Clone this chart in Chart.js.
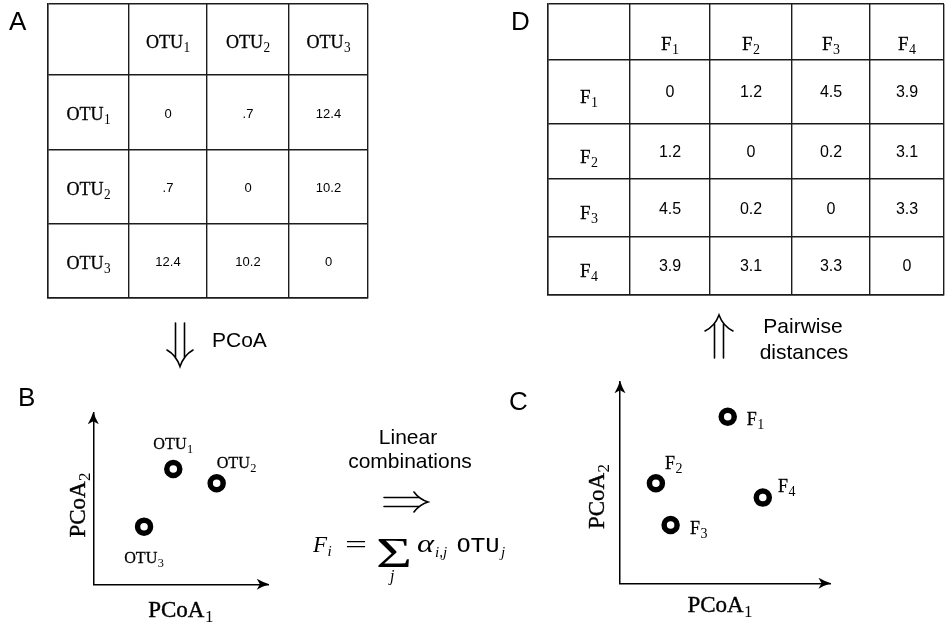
<!DOCTYPE html>
<html>
<head>
<meta charset="utf-8">
<script src="https://cdn.jsdelivr.net/npm/chart.js@4.4.0/dist/chart.umd.min.js"></script>
<style>
  html, body { margin: 0; padding: 0; background: #fff; }
  #stage { position: relative; width: 945px; height: 623px; overflow: hidden; background: #fff; }
  #stage canvas { position: absolute; left: 0; top: 0; }
  #ann { position: absolute; left: 0; top: 0; }
</style>
</head>
<body>
<div id="stage">
  <canvas id="tabA" width="945" height="623"></canvas>
  <canvas id="tabD" width="945" height="623"></canvas>
  <canvas id="pcoaB" width="945" height="623"></canvas>
  <canvas id="pcoaC" width="945" height="623"></canvas>
  <svg id="ann" width="945" height="623" xmlns="http://www.w3.org/2000/svg">
    <g font-family="'Liberation Sans', Arial, Helvetica, sans-serif" fill="#000">
      <text x="9" y="30" font-size="26">A</text>
      <text x="511" y="30" font-size="26">D</text>
      <text x="18" y="406" font-size="26">B</text>
      <text x="509" y="410" font-size="26">C</text>
      <text x="212" y="347" font-size="21">PCoA</text>
      <text x="803" y="333" font-size="21" text-anchor="middle">Pairwise</text>
      <text x="804" y="359" font-size="21" text-anchor="middle">distances</text>
      <text x="408" y="444" font-size="21" text-anchor="middle">Linear</text>
      <text x="410" y="468" font-size="21" text-anchor="middle">combinations</text>
    </g>
    <g stroke="#000" stroke-width="1.6" fill="none" stroke-linecap="round">
      <path d="M175.5 323 V357 M184.5 323 V357"/>
      <path d="M167 350 Q176 355 180 366.5 Q184 355 193 350"/>
      <path d="M714.5 358 V324 M723.5 358 V324"/>
      <path d="M705 331 Q715 326 719 315 Q723 326 733 331"/>
      <path d="M384 497.5 H419 M384 506.5 H419"/>
      <path d="M414 492 Q419 499 428 502 Q419 505 414 512"/>
    </g>
    <g fill="#000">
      <text x="313" y="552" font-family="'Liberation Serif', 'DejaVu Serif', serif" font-style="italic" font-size="23">F</text>
      <text x="327.5" y="556" font-family="'Liberation Serif', 'DejaVu Serif', serif" font-style="italic" font-size="15">i</text>
      <text x="345" y="553" font-family="'Liberation Serif', 'DejaVu Serif', serif" font-size="26" textLength="22" lengthAdjust="spacingAndGlyphs">=</text>
      <text x="376" y="566.5" font-family="'Liberation Serif', 'DejaVu Serif', serif" font-size="43" textLength="36" lengthAdjust="spacingAndGlyphs">Σ</text>
      <text x="390" y="581" font-family="'Liberation Serif', 'DejaVu Serif', serif" font-style="italic" font-size="16">j</text>
      <text x="417" y="552" font-family="'Liberation Serif', 'DejaVu Serif', serif" font-style="italic" font-size="25" textLength="17" lengthAdjust="spacingAndGlyphs">α</text>
      <text x="435" y="557" font-family="'Liberation Serif', 'DejaVu Serif', serif" font-style="italic" font-size="15">i,j</text>
      <text x="456.5" y="552" font-family="'DejaVu Sans Mono', 'Liberation Mono', monospace" font-size="19" textLength="43" lengthAdjust="spacingAndGlyphs">OTU</text>
      <text x="501" y="557" font-family="'Liberation Serif', 'DejaVu Serif', serif" font-style="italic" font-size="15">j</text>
    </g>
  </svg>
</div>
<script>
// ---------------- DATA ----------------
const otuLabels = ['OTU_1', 'OTU_2', 'OTU_3'];
const otuDistances = [
  [0, 0.7, 12.4],
  [0.7, 0, 10.2],
  [12.4, 10.2, 0]
];
const featureLabels = ['F_1', 'F_2', 'F_3', 'F_4'];
const featureDistances = [
  [0, 1.2, 4.5, 3.9],
  [1.2, 0, 0.2, 3.1],
  [4.5, 0.2, 0, 3.3],
  [3.9, 3.1, 3.3, 0]
];
const otuPCoA1 = [4.57, 7.05, 2.90];
const otuPCoA2 = [6.72, 5.89, 3.36];
const featurePCoA1 = [5.13, 1.71, 2.41, 6.80];
const featurePCoA2 = [8.26, 4.96, 2.89, 4.25];
const axisTitles = ['PCoA_1', 'PCoA_2'];

// ---------------- LAYOUT / STYLE ----------------
const W = 945, H = 623;
const TT = '"Liberation Serif", serif';
const SERIF = '"Liberation Serif", serif';
const SANS = '"Liberation Sans", Arial, Helvetica, sans-serif';
const LINE = '#1c1c1c';

const tableStyleA = {
  left: 48, top: 4, colW: [81, 78, 82, 79], rowH: [71, 75, 74, 74],
  head: { mainFont: '19px ' + TT, subFont: '14px ' + SERIF, subDy: 4, subGap: 0.5, sx: 0.95, stroke: 0.3 },
  colDy: 8, rowDy: 7.5, numFont: '13px ' + SANS, numDy: 1.5,
  fmt: v => v === 0 ? '0' : String(v).replace(/^0\./, '.')
};
const tableStyleD = {
  left: 548, top: 4, colW: [82, 80, 82, 78, 74], rowH: [55.5, 64, 55.5, 57.7, 57.6],
  head: { mainFont: '19px ' + TT, subFont: '14px ' + SERIF, subDy: 4, subGap: 0.5, sx: 1, stroke: 0.3 },
  colDy: 18, rowDy: 11.5, numFont: '16px ' + SANS, numDy: 1.5,
  fmt: v => v === 0 ? '0' : v.toFixed(1)
};
const scatterStyleB = {
  area: { left: 93.3, top: 412.7, right: 268.3, bottom: 584.3 },
  labelFont: { mainFont: '17px ' + TT, subFont: '13px ' + SERIF, subDy: 4, subGap: 0.5, sx: 0.95, stroke: 0.3 },
  titleFont: { mainFont: '23px ' + TT, subFont: '17px ' + SERIF, subDy: 5, subGap: 0.5, sx: 1, stroke: 0.4 },
  labelOffsets: [
    { dx: 0, dy: -20, align: 'center' },
    { dx: 0, dy: -15, align: 'left' },
    { dx: 0, dy: 36, align: 'center' }
  ],
  xTitleDx: 0, xTitleDy: 32.5, yTitleDx: 8.5, yTitleDy: 6.5
};
const scatterStyleC = {
  area: { left: 620, top: 381.7, right: 830, bottom: 583.3 },
  labelFont: { mainFont: '18px ' + TT, subFont: '14px ' + SERIF, subDy: 4, subGap: 0.5, sx: 1, stroke: 0.3 },
  titleFont: { mainFont: '23px ' + TT, subFont: '17px ' + SERIF, subDy: 5, subGap: 0.5, sx: 1, stroke: 0.4 },
  labelOffsets: [
    { dx: 19, dy: 8.3, align: 'left' },
    { dx: 9, dy: -14.3, align: 'left' },
    { dx: 19.3, dy: 9, align: 'left' },
    { dx: 15.3, dy: -6, align: 'left' }
  ],
  xTitleDx: -5, xTitleDy: 28.5, yTitleDx: 16, yTitleDy: 14
};

// ---------------- HELPERS ----------------
function cumsum(a) { const r = [0]; a.forEach(v => r.push(r[r.length - 1] + v)); return r; }

function drawSub(ctx, label, x, y, st, align) {
  const parts = label.split('_');
  const main = parts[0], sub = parts[1];
  const sx = st.sx || 1;
  ctx.font = st.mainFont;
  const wm = ctx.measureText(main).width;
  let ws = 0;
  if (sub) { ctx.font = st.subFont; ws = ctx.measureText(sub).width + st.subGap; }
  const total = (wm + ws) * sx;
  const x0 = align === 'center' ? x - total / 2 : (align === 'right' ? x - total : x);
  ctx.save();
  ctx.translate(x0, y);
  ctx.scale(sx, 1);
  ctx.fillStyle = '#000';
  ctx.strokeStyle = '#000';
  ctx.lineJoin = 'round';
  ctx.textAlign = 'left';
  ctx.textBaseline = 'alphabetic';
  ctx.font = st.mainFont;
  ctx.fillText(main, 0, 0);
  if (st.stroke) { ctx.lineWidth = st.stroke; ctx.strokeText(main, 0, 0); }
  if (sub) { ctx.font = st.subFont; ctx.fillText(sub, wm + st.subGap, st.subDy); }
  ctx.restore();
}

function arrowHead(ctx, tx, ty, angle) {
  ctx.save();
  ctx.translate(tx, ty);
  ctx.rotate(angle);
  ctx.beginPath();
  ctx.moveTo(1, 0);
  ctx.quadraticCurveTo(-5, -1.8, -11.5, -5.5);
  ctx.lineTo(-8.5, 0);
  ctx.lineTo(-11.5, 5.5);
  ctx.quadraticCurveTo(-5, 1.8, 1, 0);
  ctx.closePath();
  ctx.fillStyle = '#000';
  ctx.fill();
  ctx.restore();
}

// ---------------- TABLES ----------------
function makeTable(id, colLabels, rowLabels, values, st) {
  const xb = cumsum(st.colW), yb = cumsum(st.rowH);
  const tw = xb[xb.length - 1], th = yb[yb.length - 1];
  const mid = (b, i) => (b[i] + b[i + 1]) / 2;
  const colData = colLabels.map((l, j) => ({ x: mid(xb, j + 1), y: mid(yb, 0), label: l }));
  const rowData = rowLabels.map((l, i) => ({ x: mid(xb, 0), y: mid(yb, i + 1), label: l }));
  const valData = [];
  values.forEach((row, i) => row.forEach((v, j) => valData.push({ x: mid(xb, j + 1), y: mid(yb, i + 1), v: v })));

  const textPlugin = {
    id: 'tableText',
    afterDatasetsDraw(chart) {
      const ctx = chart.ctx;
      ctx.save();
      chart.data.datasets.forEach((ds, di) => {
        const meta = chart.getDatasetMeta(di);
        meta.data.forEach((pt, k) => {
          const item = ds.data[k];
          if (ds.role === 'value') {
            ctx.font = st.numFont;
            ctx.fillStyle = '#000';
            ctx.textAlign = 'center';
            ctx.textBaseline = 'middle';
            ctx.fillText(st.fmt(item.v), pt.x, pt.y + st.numDy);
          } else {
            drawSub(ctx, item.label, pt.x, pt.y + (ds.role === 'col' ? st.colDy : st.rowDy), st.head, 'center');
          }
        });
      });
      ctx.restore();
    }
  };

  const axisCommon = (bounds) => ({
    type: 'linear',
    afterBuildTicks: (axis) => { axis.ticks = bounds.map(v => ({ value: v })); },
    grid: { display: true, color: LINE, lineWidth: 1.4, drawTicks: false },
    border: { display: true, color: LINE, width: 1.4 },
    ticks: { display: false }
  });

  return new Chart(document.getElementById(id), {
    type: 'scatter',
    data: {
      datasets: [
        { role: 'col', data: colData, pointRadius: 0 },
        { role: 'row', data: rowData, pointRadius: 0 },
        { role: 'value', data: valData, pointRadius: 0 }
      ]
    },
    options: {
      responsive: false,
      animation: false,
      events: [],
      layout: { padding: { left: st.left, top: st.top, right: W - st.left - tw, bottom: H - st.top - th } },
      plugins: { legend: { display: false }, tooltip: { enabled: false } },
      scales: {
        x: Object.assign(axisCommon(xb), { min: 0, max: tw, position: 'bottom' }),
        y: Object.assign(axisCommon(yb), { min: 0, max: th, reverse: true, position: 'left' })
      }
    },
    plugins: [textPlugin]
  });
}

makeTable('tabA', otuLabels, otuLabels, otuDistances, tableStyleA);
makeTable('tabD', featureLabels, featureLabels, featureDistances, tableStyleD);

// ---------------- PCoA SCATTERS ----------------
function makeScatter(id, xs, ys, labels, st) {
  const a = st.area;
  const decor = {
    id: 'pcoaDecor',
    afterDatasetsDraw(chart) {
      const ctx = chart.ctx, ca = chart.chartArea;
      ctx.save();
      arrowHead(ctx, ca.right, ca.bottom, 0);
      arrowHead(ctx, ca.left, ca.top, -Math.PI / 2);
      const meta = chart.getDatasetMeta(0);
      const ds = chart.data.datasets[0];
      meta.data.forEach((p, i) => {
        const o = st.labelOffsets[i];
        drawSub(ctx, ds.pointLabels[i], p.x + o.dx, p.y + o.dy, st.labelFont, o.align);
      });
      drawSub(ctx, axisTitles[0], (ca.left + ca.right) / 2 + st.xTitleDx, ca.bottom + st.xTitleDy, st.titleFont, 'center');
      ctx.translate(ca.left - st.yTitleDx, (ca.top + ca.bottom) / 2 + st.yTitleDy);
      ctx.rotate(-Math.PI / 2);
      drawSub(ctx, axisTitles[1], 0, 0, st.titleFont, 'center');
      ctx.restore();
    }
  };
  const axis = {
    type: 'linear', min: 0, max: 10,
    grid: { display: false, drawTicks: false },
    border: { display: true, color: '#000', width: 1.5 },
    ticks: { display: false }
  };
  return new Chart(document.getElementById(id), {
    type: 'scatter',
    data: {
      datasets: [{
        data: xs.map((x, i) => ({ x: x, y: ys[i] })),
        pointLabels: labels,
        pointStyle: 'circle',
        pointRadius: 6.5,
        borderWidth: 5.5,
        backgroundColor: '#fff',
        borderColor: '#000'
      }]
    },
    options: {
      responsive: false,
      animation: false,
      events: [],
      layout: { padding: { left: a.left, top: a.top, right: W - a.right, bottom: H - a.bottom } },
      plugins: { legend: { display: false }, tooltip: { enabled: false } },
      scales: {
        x: Object.assign({}, axis, { position: 'bottom' }),
        y: Object.assign({}, axis, { position: 'left' })
      }
    },
    plugins: [decor]
  });
}

makeScatter('pcoaB', otuPCoA1, otuPCoA2, otuLabels, scatterStyleB);
makeScatter('pcoaC', featurePCoA1, featurePCoA2, featureLabels, scatterStyleC);
</script>
</body>
</html>
